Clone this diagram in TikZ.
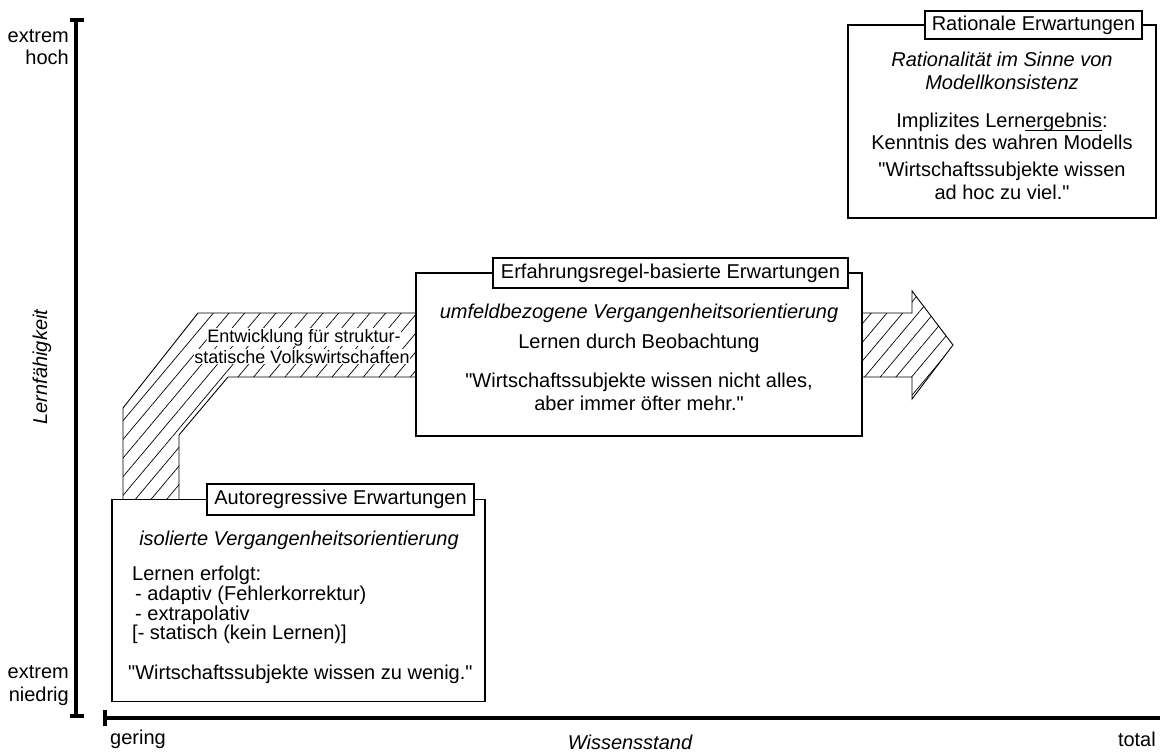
\documentclass[tikz,border=0pt]{standalone}
\usepackage{fontspec}
\setmainfont{Liberation Sans}
\usetikzlibrary{patterns.meta}
% straight double quote (bypassing the TeX quote mapping) and a thin underline
\newcommand{\dq}{\XeTeXglyph\XeTeXcharglyph"22\relax}
\newcommand{\lineunder}[1]{\setbox0=\hbox{#1}\rlap{\rule[-3pt]{\wd0}{0.9pt}}\box0}
\begin{document}
\begin{tikzpicture}[x=1pt,y=-1pt,
  every node/.style={font=\fontsize{20}{22}\selectfont, inner sep=0pt},
  frame/.style={draw=black, line width=1.1pt, fill=white},
  caption/.style={draw=black, line width=1.1pt, fill=white, minimum height=29pt},
  txt/.style={anchor=base},
  txtl/.style={anchor=base west},
  axisline/.style={line width=4.2pt, black},
  axiscap/.style={line width=3.6pt, black},
  hatch/.style={draw=black, line width=0.9pt,
    pattern={Lines[angle=50,distance=12pt,line width=0.7pt]}},
  bandtext/.style={fill=white, inner sep=0.6pt, anchor=base,
    font=\fontsize{18}{20}\selectfont}
]
\useasboundingbox (0,0) rectangle (1160,754);

% axes
\coordinate (ytop) at (76,20);
\coordinate (ybot) at (76,716);
\coordinate (xleft) at (105,718);
\coordinate (xright) at (1160,718);
\draw[axisline] (ytop) -- (ybot);
\draw[axiscap] (69.5,20) -- (83.5,20);
\draw[axiscap] (69.5,716) -- (83.5,716);
\draw[axisline] (xleft) -- (xright);
\draw[axiscap] (105,710) -- (105,726);

% axis labels
\node[anchor=base east] (hi1) at (69,43) {extrem};
\node[anchor=base east] (hi2) at (69,65) {hoch};
\node[anchor=base east] (lo1) at (69,678) {extrem};
\node[anchor=base east] (lo2) at (69,701) {niedrig};
\node[txtl] (xlo) at (110,744) {gering};
\node[anchor=base east] (xhi) at (1156,746) {total};
\node[txt] (xlab) at (630,749) {\itshape Wissensstand};
\node[txt, rotate=90] (ylab) at (47,367) {\itshape Lernfähigkeit};

% development band ending in an arrow
\draw[hatch] (123,500) -- (123,408) -- (198,313) -- (912,313) -- (912,291)
  -- (953,345) -- (912,399) -- (912,377) -- (228,377) -- (179,435)
  -- (179,500) -- cycle;
\node[bandtext] (band1) at (304,342) {Entwicklung für struktur-};
\node[bandtext] (band2) at (302,363) {statische Volkswirtschaften};

% rational expectations
\node[frame, minimum width=308pt, minimum height=193pt] (ratbox) at (1002,121.5) {};
\node[caption, minimum width=217pt, minimum height=28pt] (rattitle) at (1033.5,25) {Rationale Erwartungen};
\node[txt] (rat1) at (1002,67) {\itshape Rationalität im Sinne von};
\node[txt] (rat2) at (1002,90) {\itshape Modellkonsistenz};
\node[txt] (rat3) at (1002,128) {Implizites Lern\lineunder{ergebnis}:};
\node[txt] (rat4) at (1002,150) {Kenntnis des wahren Modells};
\node[txt] (rat5) at (1002,177) {\dq Wirtschaftssubjekte wissen};
\node[txt] (rat6) at (1002,200) {ad hoc zu viel.\dq};

% rule-of-thumb expectations
\node[frame, minimum width=446pt, minimum height=163pt] (erfbox) at (639,354.5) {};
\node[caption, minimum width=355pt, minimum height=30pt] (erftitle) at (670.5,273) {Erfahrungsregel-basierte Erwartungen};
\node[txt] (erf1) at (639,318) {\itshape umfeldbezogene Vergangenheitsorientierung};
\node[txt] (erf2) at (639,348) {Lernen durch Beobachtung};
\node[txt] (erf3) at (639,387) {\dq Wirtschaftssubjekte wissen nicht alles,};
\node[txt] (erf4) at (639,410) {aber immer öfter mehr.\dq};

% autoregressive expectations
\node[frame, minimum width=373pt, minimum height=202pt] (arbox) at (298.5,600.5) {};
\node[caption, minimum width=267pt, minimum height=31pt] (artitle) at (340.5,499.5) {Autoregressive Erwartungen};
\node[txt] (ar1) at (299,545) {\itshape isolierte Vergangenheitsorientierung};
\node[txtl] (ar2) at (132,580) {Lernen erfolgt:};
\node[txtl] (ar3) at (135,600) {- adaptiv (Fehlerkorrektur)};
\node[txtl] (ar4) at (135,620) {- extrapolativ};
\node[txtl] (ar5) at (132,639) {[- statisch (kein Lernen)]};
\node[txtl] (ar6) at (128,679) {\dq Wirtschaftssubjekte wissen zu wenig.\dq};
\end{tikzpicture}
\end{document}
